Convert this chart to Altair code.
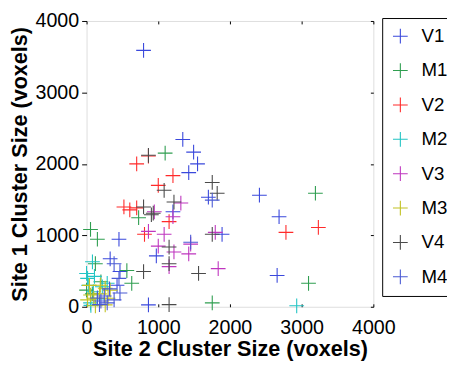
import altair as alt
import pandas as pd

series = ["V1", "M1", "V2", "M2", "V3", "M3", "V4", "M4"]
colors = ["#3a48dc", "#2f9e50", "#ff2a2a", "#22c4c4", "#bf36bf", "#c2c222", "#4a4a4a", "#4a5ad4"]

v1_x = [795, 1342, 1493, 1548, 1425, 2411, 1699, 1205, 2685, 452, 1890, 973, 2658, 863, 329, 466, 425]
v1_y = [3589, 2342, 2164, 2000, 1877, 1562, 1534, 1329, 1260, 945, 1014, 712, 438, 27, 671, 493, 301]
m1_x = [1096, 726, 3192, 55, 151, 123, 562, 630, 3096, 1753, 0, 80, 200]
m1_y = [2150, 1247, 1589, 1082, 945, 603, 507, 329, 329, 55, 233, 180, 350]
v2_x = [863, 699, 1205, 1000, 521, 603, 699, 1151, 808, 2781, 3233]
v2_y = [2110, 2000, 1836, 1699, 1397, 1356, 1384, 1192, 1014, 1041, 1110]
m2_x = [82, 0, 14, 110, 288, 220, 55, 2931, 30, 95, 60, 150]
m2_y = [630, 466, 397, 425, 329, 280, 55, 14, 300, 210, 20, 110]
v3_x = [945, 1315, 1205, 863, 1082, 1795, 1000, 1452, 1425, 1219, 1151, 1836]
v3_y = [1329, 1452, 1260, 1055, 1014, 1041, 849, 877, 740, 767, 562, 534]
m3_x = [192, 260, 329, 55, 14, 260, 123, 100, 180, 300, 40]
m3_y = [301, 260, 233, 164, 96, 27, 14, 120, 180, 120, 300]
v4_x = [795, 904, 930, 1219, 1753, 1822, 1082, 1753, 1151, 1151, 795, 1562, 1151, 863]
v4_y = [1397, 1288, 1310, 1466, 1740, 1589, 1630, 1014, 836, 603, 493, 466, 30, 2120]
m4_x = [1753, 1452, 384, 452, 151, 247, 288, 466, 384, 180, 320, 200]
m4_y = [1493, 904, 603, 397, 123, 151, 55, 192, 96, 30, 250, 80]

xs = [v1_x, m1_x, v2_x, m2_x, v3_x, m3_x, v4_x, m4_x]
ys = [v1_y, m1_y, v2_y, m2_y, v3_y, m3_y, v4_y, m4_y]

rows = []
for i, (name, sx, sy) in enumerate(zip(series, xs, ys)):
    for a, b in zip(sx, sy):
        rows.append({"s": name, "order": i, "x": a, "y": b})
df = pd.DataFrame(rows)

tick_vals = [0, 1000, 2000, 3000, 4000]
plus = "M-1,0H1M0,-1V1"
FONT = "Liberation Sans"

xscale = alt.Scale(domain=[0, 4000], nice=False, zero=False)
yscale = alt.Scale(domain=[0, 4000], nice=False, zero=False)

points = alt.Chart(df).mark_point(shape=plus, filled=False, strokeWidth=1.1, size=225, opacity=1).encode(
    x=alt.X("x:Q", scale=xscale, axis=alt.Axis(
        orient="bottom", values=tick_vals, grid=False, domain=False, format="d",
        labelOverlap=False, labelFlush=False,
        ticks=True, tickSize=3, offset=-3, tickColor="black",
        labelFontSize=20, labelFont=FONT, labelColor="black", labelPadding=11,
        title="Site 2 Cluster Size (voxels)", titleFont=FONT, titleFontSize=22,
        titleFontWeight="bold", titleColor="black", titlePadding=2)),
    y=alt.Y("y:Q", scale=yscale, axis=alt.Axis(
        orient="left", values=tick_vals, grid=False, domain=False, format="d",
        labelOverlap=False, labelFlush=False,
        ticks=True, tickSize=5, tickColor="black",
        labelFontSize=20, labelFont=FONT, labelColor="black", labelPadding=3,
        title="Site 1 Cluster Size (voxels)", titleFont=FONT, titleFontSize=22,
        titleFontWeight="bold", titleColor="black", titlePadding=4)),
    color=alt.Color("s:N", scale=alt.Scale(domain=series, range=colors), sort=series,
                    legend=alt.Legend(
                        title=None, orient="none", legendX=301, legendY=-3,
                        symbolType=plus, symbolSize=225, symbolStrokeWidth=1.1,
                        symbolFillColor="transparent",
                        labelFontSize=19, labelFont=FONT, labelColor="black",
                        labelExpr="datum.label + '            '",
                        labelOffset=12, rowPadding=14, padding=9,
                        strokeColor="black", fillColor="white")),
    order=alt.Order("order:Q"),
)

frame = alt.Chart(df).mark_point(opacity=0).encode(
    x=alt.X("x:Q", scale=xscale, axis=alt.Axis(
        orient="top", values=tick_vals, grid=False, domain=False, labels=False,
        ticks=True, tickSize=3, offset=-3, tickColor="black", title=None)),
    y=alt.Y("y:Q", scale=yscale, axis=alt.Axis(
        orient="right", values=tick_vals, grid=False, domain=False, labels=False,
        ticks=True, tickSize=3, offset=-3, tickColor="black", title=None)),
)

chart = alt.layer(points, frame).resolve_axis(x="independent", y="independent").properties(
    width=292, height=291,
    autosize=alt.AutoSizeParams(type="none"),
    padding={"left": 80, "top": 10, "right": 75, "bottom": 52},
).configure_view(stroke="black", strokeWidth=1.5).configure(background="white")

chart.save("out.html", embed_options={"renderer": "svg", "actions": False})
